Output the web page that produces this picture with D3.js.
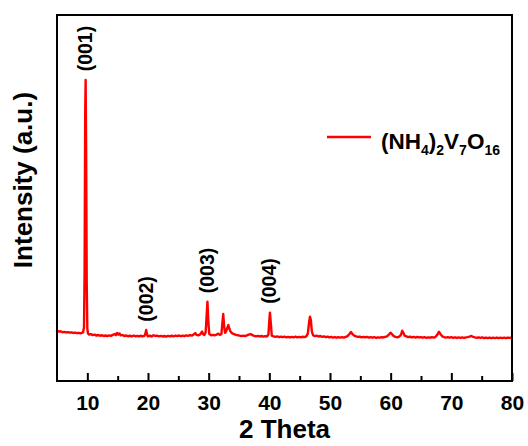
<!DOCTYPE html>
<html>
<head>
<meta charset="utf-8">
<script src="https://cdn.jsdelivr.net/npm/d3@7"></script>
<style>
  html, body { margin: 0; padding: 0; background: #fff; }
  svg { display: block; font-family: "Liberation Sans", Arial, sans-serif; }
</style>
</head>
<body>
<svg id="chart" width="528" height="446"></svg>
<script>
// ---- data ----
const twoTheta = [5.0,5.3,5.6,5.9,6.2,6.5,6.8,7.1,7.4,7.7,8.0,8.3,8.6,8.9,9.1,9.3,9.45,9.55,9.65,9.72,9.8,9.9,10.0,10.1,10.3,10.6,10.9,11.2,11.5,11.8,12.1,12.4,12.7,13.0,13.3,13.6,13.9,14.2,14.5,14.7,14.9,15.1,15.3,15.5,15.8,16.1,16.4,16.7,17.0,17.3,17.6,17.9,18.2,18.5,18.8,19.1,19.4,19.55,19.7,19.85,20.0,20.3,20.6,20.9,21.2,21.5,21.8,22.1,22.4,22.7,23.0,23.3,23.6,23.9,24.2,24.5,24.8,25.1,25.4,25.7,26.0,26.3,26.6,26.9,27.2,27.5,27.8,28.0,28.3,28.6,28.9,29.1,29.3,29.5,29.65,29.8,29.95,30.1,30.4,30.7,31.0,31.3,31.6,31.9,32.1,32.25,32.4,32.55,32.7,32.9,33.1,33.25,33.4,33.6,33.9,34.2,34.5,34.8,35.1,35.4,35.7,36.0,36.3,36.6,36.9,37.2,37.5,37.8,38.1,38.4,38.7,39.0,39.3,39.6,39.85,40.0,40.1,40.25,40.4,40.7,41.0,41.3,41.6,41.9,42.2,42.5,42.8,43.1,43.4,43.7,44.0,44.3,44.6,44.9,45.2,45.5,45.8,46.1,46.35,46.55,46.7,46.85,47.0,47.2,47.5,47.8,48.1,48.4,48.7,49.0,49.3,49.6,49.9,50.2,50.5,50.8,51.1,51.4,51.7,52.0,52.3,52.6,52.9,53.2,53.45,53.7,54.0,54.3,54.6,54.9,55.2,55.5,55.8,56.1,56.4,56.7,57.0,57.3,57.6,57.9,58.2,58.5,58.8,59.1,59.4,59.7,60.0,60.2,60.5,60.8,61.1,61.4,61.7,61.9,62.1,62.3,62.6,62.9,63.2,63.5,63.8,64.1,64.4,64.7,65.0,65.3,65.6,65.9,66.2,66.5,66.8,67.1,67.4,67.7,67.95,68.2,68.5,68.8,69.1,69.4,69.7,70.0,70.3,70.6,70.9,71.2,71.5,71.8,72.1,72.4,72.7,73.0,73.3,73.6,73.9,74.2,74.5,74.8,75.1,75.4,75.7,76.0,76.3,76.6,76.9,77.2,77.5,77.8,78.1,78.4,78.7,79.0,79.3,79.6,80.0];
const intensity = [412,405,408,400,403,398,401,396,399,394,397,392,395,391,394,400,440,900,2200,2467,1900,800,430,390,380,384,376,380,372,377,371,375,369,373,368,374,370,378,385,376,394,380,390,374,378,368,373,367,371,366,372,367,370,365,371,366,370,385,418,380,366,371,365,375,369,372,366,370,365,369,364,370,366,371,366,372,368,373,367,372,368,374,370,376,372,380,393,378,374,382,405,384,378,400,520,650,480,385,375,378,374,380,388,378,385,470,549,450,395,410,440,459,430,405,390,384,378,375,372,368,372,368,374,380,385,376,370,366,370,365,369,364,368,365,380,500,560,470,372,366,362,366,360,364,359,363,358,362,357,362,358,363,358,362,358,363,360,366,390,480,527,500,410,375,368,372,365,369,362,366,359,363,357,361,356,360,355,359,356,360,356,362,368,385,402,385,372,366,362,364,358,362,357,361,356,360,355,359,354,358,355,359,357,362,366,380,396,385,368,362,358,364,378,412,395,372,366,360,363,357,361,356,362,357,360,355,359,354,358,355,360,356,362,380,404,385,366,360,356,360,355,359,354,358,353,357,353,357,354,358,360,364,369,362,357,354,358,353,357,352,356,352,356,351,355,352,356,351,355,352,356,352,356,353,357];
const xTicks = [10, 20, 30, 40, 50, 60, 70, 80];
const xMinorTicks = [15, 25, 35, 45, 55, 65, 75];
const peakPos = [9.72, 19.7, 29.8, 40.1];
const peakLabels = ["(001)", "(002)", "(003)", "(004)"];
const labelCenterVal = [2725, 673, 906, 820];
const seriesName = "(NH4)2V7O16";

// ---- layout ----
const svg = d3.select("#chart");
const L = 57, R = 512, T = 15, B = 381;
const x = d3.scaleLinear().domain([5, 80]).range([L, R]);
const y = d3.scaleLinear().domain([0, 3000]).range([B, T]);

// clip
svg.append("clipPath").attr("id", "clip")
  .append("rect").attr("x", L).attr("y", T).attr("width", R - L).attr("height", B - T);

// line
const pts = twoTheta.map((t, i) => [t, intensity[i]]);
const line = d3.line().x(d => x(d[0])).y(d => y(d[1]));
svg.append("path")
  .datum(pts)
  .attr("clip-path", "url(#clip)")
  .attr("fill", "none")
  .attr("stroke", "#ff0000")
  .attr("stroke-width", 2.4)
  .attr("stroke-linejoin", "round")
  .attr("d", line);

// bottom axis with inward ticks
const xAxis = d3.axisBottom(x).tickValues(xTicks).tickSize(-8).tickPadding(14)
  .tickFormat(d3.format("d"));
const gx = svg.append("g").attr("transform", `translate(0,${B})`).call(xAxis);
gx.select(".domain").remove();
gx.selectAll(".tick line").attr("stroke", "#000").attr("stroke-width", 2);
gx.selectAll(".tick text")
  .attr("fill", "#000")
  .style("font-size", "21px")
  .style("font-weight", "bold")
  .style("font-family", "'Liberation Sans', Arial, sans-serif");

const gxm = svg.append("g").attr("transform", `translate(0,${B})`)
  .call(d3.axisBottom(x).tickValues(xMinorTicks).tickSize(-5).tickFormat(""));
gxm.select(".domain").remove();
gxm.selectAll(".tick line").attr("stroke", "#000").attr("stroke-width", 2);

// frame
svg.append("rect")
  .attr("x", L).attr("y", T).attr("width", R - L).attr("height", B - T)
  .attr("fill", "none").attr("stroke", "#000").attr("stroke-width", 2);

// peak labels
peakPos.forEach((p, i) => {
  const cx = x(p), cy = y(labelCenterVal[i]);
  svg.append("text")
    .attr("transform", `translate(${cx + 6.5},${cy}) rotate(-90)`)
    .attr("text-anchor", "middle")
    .style("font-size", "19.5px")
    .style("font-weight", "bold")
    .attr("fill", "#000")
    .text(peakLabels[i]);
});

// axis titles
svg.append("text")
  .attr("x", (L + R) / 2).attr("y", 438)
  .attr("text-anchor", "middle")
  .style("font-size", "26px").style("font-weight", "bold")
  .attr("fill", "#000")
  .text("2 Theta");

svg.append("text")
  .attr("transform", `translate(32,180) rotate(-90)`)
  .attr("text-anchor", "middle")
  .style("font-size", "26px").style("font-weight", "bold")
  .attr("fill", "#000")
  .text("Intensity (a.u.)");

// legend
svg.append("line")
  .attr("x1", 327).attr("x2", 371).attr("y1", 137).attr("y2", 137)
  .attr("stroke", "#ff0000").attr("stroke-width", 2.5);

const lt = svg.append("text")
  .attr("x", 381).attr("y", 149)
  .style("font-size", "22.5px").style("font-weight", "bold")
  .attr("fill", "#000");
const parts = [["(NH", false], ["4", true], [")", false], ["2", true], ["V", false], ["7", true], ["O", false], ["16", true]];
let prevSub = false;
parts.forEach(([s, sub]) => {
  const ts = lt.append("tspan").text(s);
  if (sub) { ts.style("font-size", "14px").attr("dy", prevSub ? 0 : 6); }
  else if (prevSub) { ts.attr("dy", -6); }
  prevSub = sub;
});
</script>
</body>
</html>
